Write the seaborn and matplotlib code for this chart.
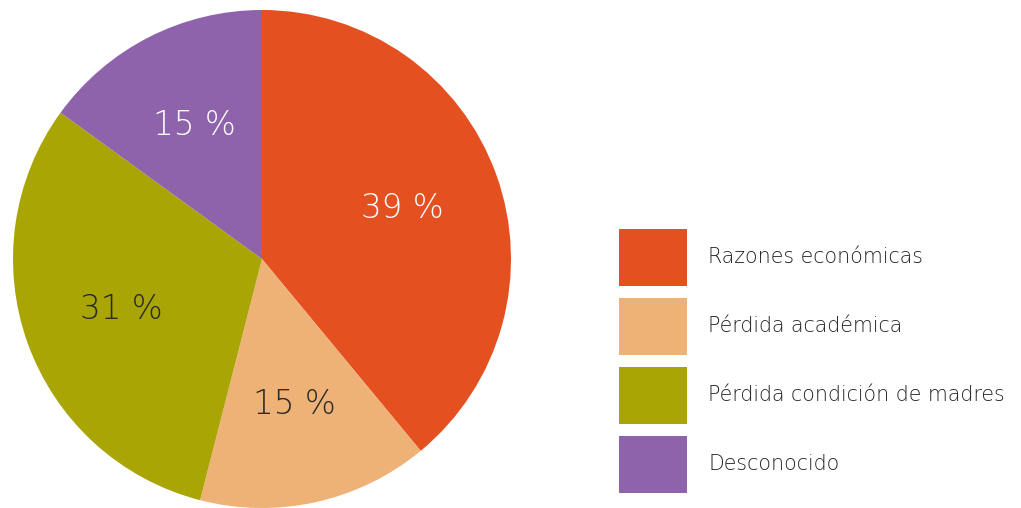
import matplotlib
matplotlib.use("Agg")
import matplotlib.pyplot as plt
import seaborn as sns
from matplotlib.patches import Patch

# data
categories = ["Razones económicas", "Pérdida académica",
              "Pérdida condición de madres", "Desconocido"]
values = [39, 15, 31, 15]
colors = ["#E45020", "#EEB176", "#A8A504", "#8E63AB"]
label_colors = ["white", "#2a2a2a", "#2a2a2a", "white"]

sns.set_theme(style="white")
plt.rcParams["font.family"] = ["DejaVu Sans"]

fig = plt.figure(figsize=(10.21, 5.08), dpi=100)
ax = fig.add_axes([13 / 1021, 0.0, 498 / 1021, 498 / 508])

pal = sns.color_palette(colors)
wedges, texts, autotexts = ax.pie(
    values, colors=pal, startangle=90, counterclock=False,
    autopct=lambda p: f"{p:.0f} %", pctdistance=0.6,
    wedgeprops=dict(linewidth=0), radius=1.0)
for t, c in zip(autotexts, label_colors):
    t.set_color(c)
    t.set_fontsize(23.5)
    t.set_fontweight("light")
ax.set_xlim(-1, 1)
ax.set_ylim(-1, 1)
ax.set_aspect("equal")
ax.axis("off")

# legend: big square swatches
fs = 14.8
px = fs * 100 / 72
handles = [Patch(facecolor=c, edgecolor="none") for c in colors]
leg = fig.legend(handles, categories, loc="upper left",
                 bbox_to_anchor=(619 / 1021, 1 - 229 / 508),
                 frameon=False, fontsize=fs, borderpad=0, borderaxespad=0,
                 handlelength=68 / px, handleheight=(57 / px - 0.245) / 0.65,
                 labelspacing=12 / px, handletextpad=21 / px)
for t in leg.get_texts():
    t.set_color("#222222")
    t.set_fontweight("light")

plt.savefig("out.png", dpi=100)
